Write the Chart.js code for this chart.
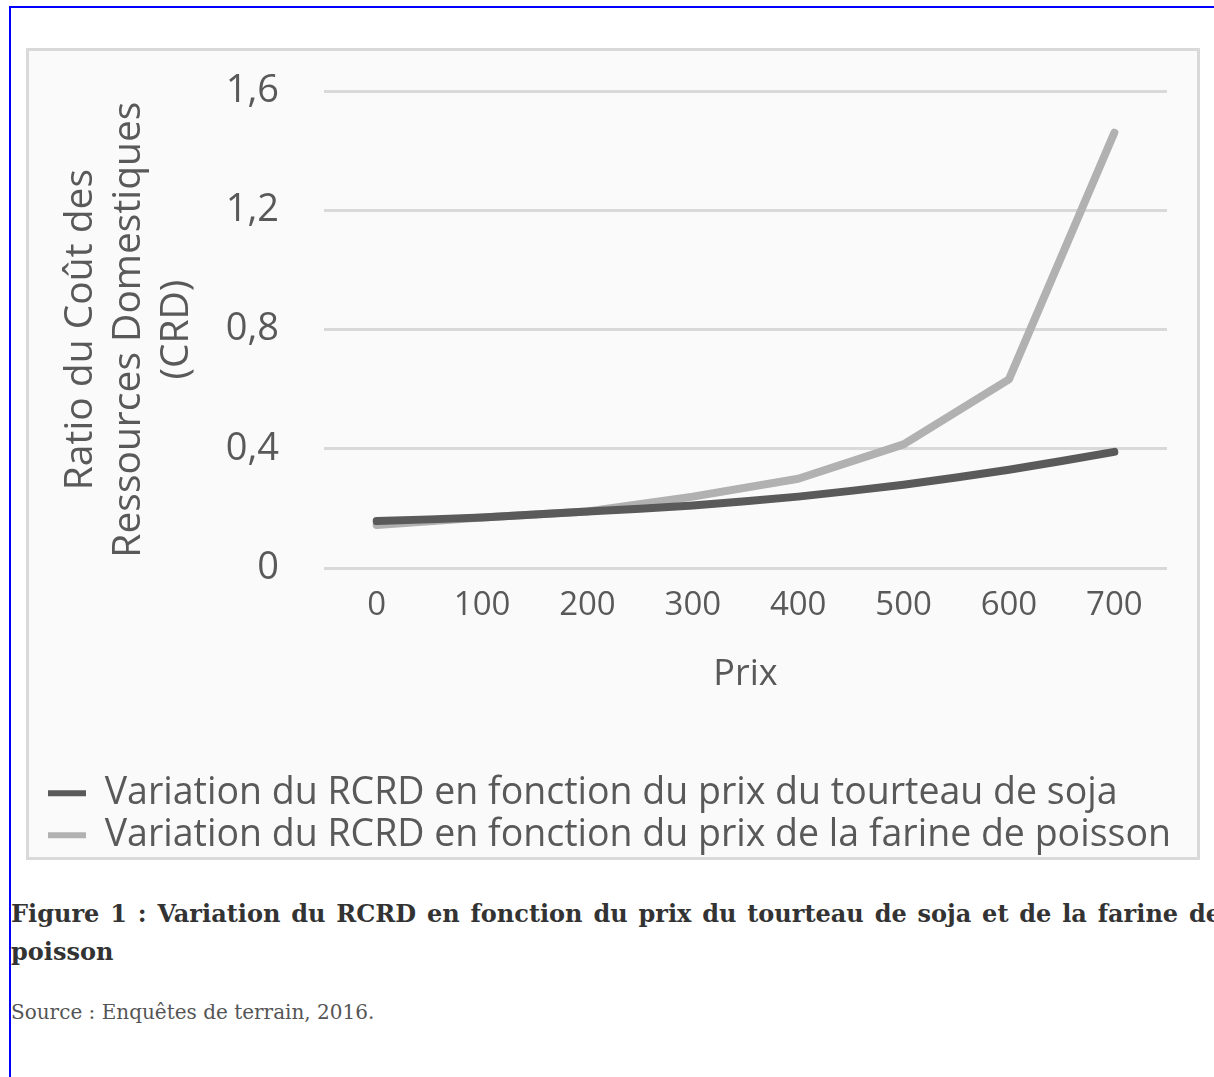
<!DOCTYPE html>
<html>
<head>
<meta charset="utf-8">
<script src="https://cdn.jsdelivr.net/npm/chart.js@4/dist/chart.umd.min.js"></script>
<style>
html, body { margin: 0; padding: 0; background: #fff; overflow: hidden; }
#page { position: absolute; left: 9px; top: 6px; width: 1240px; height: 1200px;
  border-top: 2px solid #0000ff; border-left: 2px solid #0000ff; }
#box { position: absolute; left: 15px; top: 40px; width: 1168px; height: 806px;
  border: 3px solid #d9d9d9; background: #fafafa; }
#caption { position: absolute; left: 0; top: 887px; width: 1210px;
  font-family: "DejaVu Serif", serif; font-weight: bold; font-size: 24px;
  line-height: 38px; color: #333; text-align: justify; }
#source { position: absolute; left: 0; top: 992px;
  font-family: "DejaVu Serif", serif; font-size: 20px; color: #555; }
</style>
</head>
<body>
<div id="page">
  <div id="box"><canvas id="myChart" width="1168" height="806"></canvas></div>
  <div id="caption">Figure 1 : Variation du RCRD en fonction du prix du tourteau de soja et de la farine de poisson</div>
  <div id="source">Source : Enquêtes de terrain, 2016.</div>
</div>
<script>
// prix (axe x)
let prix = ['0', '100', '200', '300', '400', '500', '600', '700'];
// RCRD
let rcrdSoja = [0.158, 0.17, 0.19, 0.21, 0.24, 0.28, 0.33, 0.39];
let rcrdPoisson = [0.145, 0.17, 0.19, 0.24, 0.30, 0.415, 0.633, 1.46];
let yTicks = [0, 0.4, 0.8, 1.2, 1.6];

let labelSoja = 'Variation du RCRD en fonction du prix du tourteau de soja';
let labelPoisson = 'Variation du RCRD en fonction du prix de la farine de poisson';

let textColor = '#595959';
let fontName = '"Open Sans", "Noto Sans", sans-serif';

var ctx = document.getElementById('myChart').getContext('2d');

var myChart = new Chart(ctx, {
    type: 'line',
    data: {
        labels: prix,
        datasets: [{
            label: labelSoja,
            data: rcrdSoja,
            borderColor: '#5a5a5a',
            backgroundColor: '#5a5a5a',
            borderWidth: 8,
            borderCapStyle: 'round',
            borderJoinStyle: 'round',
            pointRadius: 0,
            tension: 0.2
        },
        {
            label: labelPoisson,
            data: rcrdPoisson,
            borderColor: '#b1b1b1',
            backgroundColor: '#b1b1b1',
            borderWidth: 8,
            borderCapStyle: 'round',
            borderJoinStyle: 'round',
            pointRadius: 0,
            tension: 0
        }]
    },
    options: {
        responsive: false,
        animation: false,
        layout: { padding: { left: 14.5, right: 0, top: 40, bottom: -7 } },
        plugins: {
            tooltip: { enabled: false },
            legend: {
                position: 'bottom',
                align: 'start',
                labels: {
                    color: textColor,
                    font: { family: fontName, size: 37.5 },
                    boxWidth: 38,
                    boxHeight: 6,
                    padding: 4.5,
                    generateLabels: function (chart) {
                        let items = Chart.defaults.plugins.legend.labels.generateLabels(chart);
                        items.forEach(item => { item.lineWidth = 0; });
                        return items;
                    }
                }
            }
        },
        scales: {
            x: {
                offset: true,
                grid: { display: false, drawTicks: false },
                border: { display: false },
                ticks: { color: textColor, font: { family: fontName, size: 33 }, padding: 18, maxRotation: 0 },
                title: {
                    display: true,
                    text: 'Prix',
                    color: textColor,
                    font: { family: fontName, size: 36 },
                    padding: { top: 9, bottom: 74 }
                },
                afterFit: function (axis) {
                    axis.paddingLeft = 0;
                    axis.paddingRight = 0;
                }
            },
            y: {
                min: 0,
                max: 1.6,
                afterBuildTicks: function (axis) {
                    axis.ticks = yTicks.map(v => ({ value: v }));
                },
                afterFit: function (axis) {
                    axis.width = 280.5;
                    axis.paddingTop = 0;
                    axis.paddingBottom = 0;
                },
                grid: { color: '#d9d9d9', lineWidth: 3, drawTicks: false },
                border: { display: false },
                ticks: {
                    color: textColor,
                    font: { family: fontName, size: 38 },
                    padding: 45,
                    callback: function (value) {
                        return String(Math.round(value * 10) / 10).replace('.', ',');
                    }
                },
                title: {
                    display: true,
                    text: ['Ratio du Coût des', 'Ressources Domestiques', '(CRD)'],
                    color: textColor,
                    font: { family: fontName, size: 39, lineHeight: 1.23 },
                    padding: { top: 13.5, bottom: 10 }
                }
            },
            // marge droite du graphique (la légende peut la dépasser)
            marge: {
                position: 'right',
                grid: { display: false, drawTicks: false },
                border: { display: false },
                ticks: { display: false },
                afterFit: function (axis) {
                    axis.width = 30;
                    axis.paddingTop = 0;
                    axis.paddingBottom = 0;
                }
            }
        }
    }
});
</script>
</body>
</html>
